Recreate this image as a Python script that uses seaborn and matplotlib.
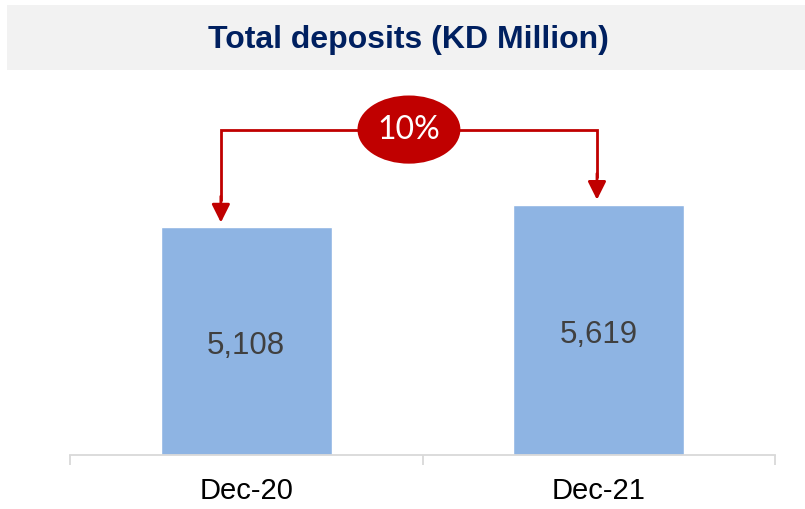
import matplotlib
matplotlib.use("Agg")
import matplotlib.pyplot as plt
import seaborn as sns
import pandas as pd
from matplotlib.patches import Ellipse, Rectangle

# ---- data ----
categories = ["Dec-20", "Dec-21"]
deposits = [5108, 5619]
value_labels = ["5,108", "5,619"]
growth_label = "10%"
title = "Total deposits (KD Million)"

sns.set_style("white")
plt.rcParams['font.family'] = ['Liberation Sans', 'DejaVu Sans']

W, H = 805, 509
fig = plt.figure(figsize=(W / 100, H / 100), dpi=100)

# title band
fig.patches.append(Rectangle((7 / W, (H - 70) / H), (W - 7) / W, 65 / H,
                             transform=fig.transFigure, facecolor="#F2F2F2",
                             edgecolor="none", zorder=0))
fig.text(408 / W, (H - 40) / H, title, ha="center", va="center",
         fontsize=23, fontweight="bold", color="#002060")

ax = fig.add_axes([70 / W, (H - 455) / H, 705 / W, 380 / H])
df = pd.DataFrame({"cat": categories, "val": deposits})
sns.barplot(data=df, x="cat", y="val", color="#8EB4E3", saturation=1,
            width=0.486, ax=ax, zorder=2)
ax.set_xlim(-0.5, 1.5)
ax.set_ylim(0, 8530)
ax.set_xlabel("")
ax.set_ylabel("")
ax.set_yticks([])
for s in ["top", "right", "left"]:
    ax.spines[s].set_visible(False)
ax.spines["bottom"].set_color("#D9D9D9")
ax.spines["bottom"].set_linewidth(1.3)
ax.set_xticks(range(len(categories)))
ax.set_xticklabels(categories, fontsize=21, color="black")
ax.tick_params(axis="x", which="major", length=0, pad=16, bottom=True)
ax.set_xticks([i - 0.5 for i in range(len(categories) + 1)], minor=True)
ax.tick_params(axis="x", which="minor", length=7.5, width=1.3, color="#D9D9D9",
               direction="out", bottom=True)

# value labels inside bars
for i, (v, lab) in enumerate(zip(deposits, value_labels)):
    ax.text(i, v * 0.48, lab, ha="center", va="center", fontsize=22.5,
            color="#404040")

# growth connector
red = "#C00000"
y_line = 7305
x_left = 0 - 0.072
x_right = 1 - 0.005
ax.plot([x_left, x_left, x_right, x_right],
        [deposits[0] + 600, y_line, y_line, deposits[1] + 600],
        color=red, lw=2.0, solid_capstyle="butt", solid_joinstyle="miter",
        zorder=3)
for x, v in [(x_left, deposits[0]), (x_right, deposits[1])]:
    ax.annotate("", xy=(x, v + 110), xytext=(x, v + 700),
                arrowprops=dict(arrowstyle="-|>,head_width=0.55,head_length=1.1",
                                color=red, lw=2.0, shrinkA=0, shrinkB=0),
                zorder=3)
ell = Ellipse(((x_left + x_right) / 2, y_line), 0.292, 1530, facecolor=red,
              edgecolor="none", zorder=4)
ax.add_patch(ell)
ax.text((x_left + x_right) / 2, y_line, growth_label, ha="center", va="center",
        fontsize=23, color="white", family=["Lato", "DejaVu Sans"], zorder=5)

fig.savefig("out.png", dpi=100)
